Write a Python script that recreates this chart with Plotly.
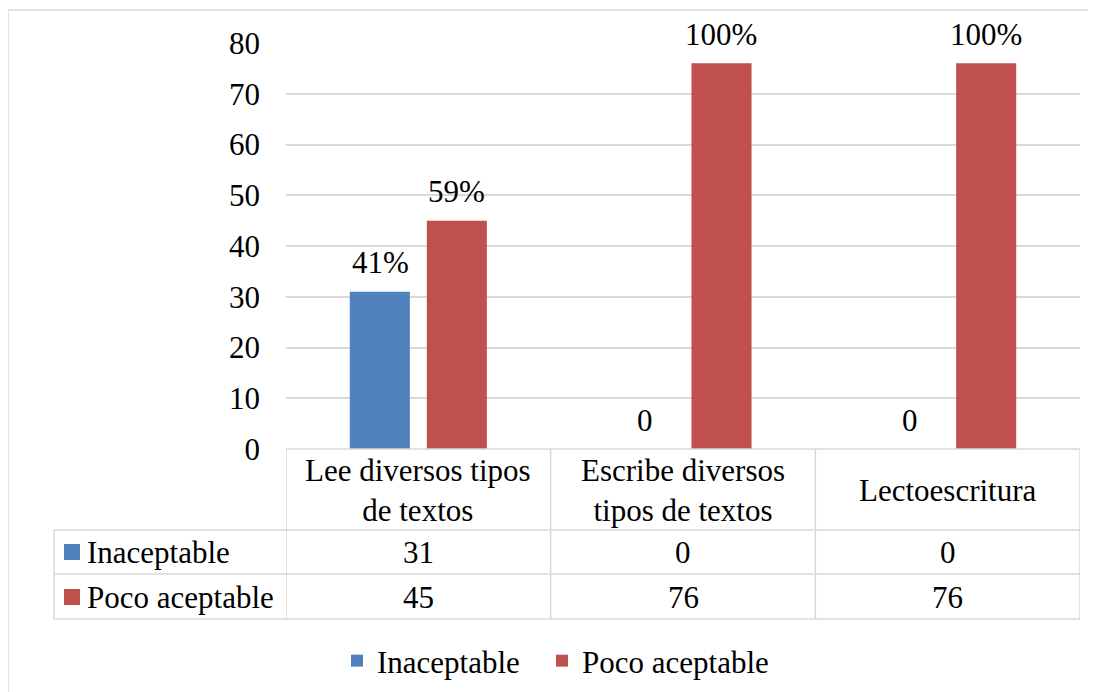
import plotly.graph_objects as go

categories = ["Lee diversos tipos de textos", "Escribe diversos tipos de textos", "Lectoescritura"]
category_labels = [["Lee diversos tipos", "de textos"], ["Escribe diversos", "tipos de textos"], ["Lectoescritura"]]
series_names = ["Inaceptable", "Poco aceptable"]
inaceptable = [31, 0, 0]
poco_aceptable = [45, 76, 76]
inaceptable_labels = ["41%", "0", "0"]
poco_labels = ["59%", "100%", "100%"]
y_ticks = [0, 10, 20, 30, 40, 50, 60, 70, 80]

BLUE = "#4F81BD"
RED = "#C0504D"
GRID = "#D9D9D9"
FONT = "Liberation Serif, Times New Roman, serif"
FS = 31

W, H = 1096, 692
OFF = 8  # page body margin
RL, RR, RT, RB = 286, 1080, 43, 449
L, R, T, B = RL - OFF, RR - OFF, RT - OFF, RB - OFF


def px(p):
    return (p - RL) / (RR - RL)


def py(p):
    return (RB - p) / (RB - RT)


idx = list(range(len(categories)))
fig = go.Figure()
fig.add_trace(go.Bar(x=idx, y=inaceptable, name=series_names[0], marker_color=BLUE,
                     marker_line_width=0, legend="legend"))
fig.add_trace(go.Bar(x=idx, y=poco_aceptable, name=series_names[1], marker_color=RED,
                     marker_line_width=0, legend="legend2"))

tf = dict(family=FONT, size=FS, color="black")
annotations = []
shapes = []
for vals, labs, shift in [(inaceptable, inaceptable_labels, -38), (poco_aceptable, poco_labels, 38)]:
    for i, (v, t) in enumerate(zip(vals, labs)):
        annotations.append(dict(x=i, y=v, xref="x", yref="y", text=t, showarrow=False,
                                xshift=shift, yshift=29, yanchor="middle", font=tf))

line = dict(color=GRID, width=1.5)
row_lines = [449, 530, 574, 619]
left_col = 54
shapes.append(dict(type="line", xref="paper", yref="paper", x0=px(RL), x1=px(RR),
                   y0=py(row_lines[0]), y1=py(row_lines[0]), line=line))
for yl in row_lines[1:]:
    shapes.append(dict(type="line", xref="paper", yref="paper", x0=px(left_col), x1=px(RR),
                       y0=py(yl), y1=py(yl), line=line))
for i in range(len(categories) + 1):
    shapes.append(dict(type="line", xref="x", yref="paper", x0=i - 0.5, x1=i - 0.5,
                       y0=py(449), y1=py(619), line=line))
shapes.append(dict(type="line", xref="paper", yref="paper", x0=px(left_col), x1=px(left_col),
                   y0=py(530), y1=py(619), line=line))

for i, lab in enumerate(category_labels):
    annotations.append(dict(x=i, y=py(490), xref="x", yref="paper", text="<br>".join(lab),
                            showarrow=False, yanchor="middle", font=tf))
row_centers = [552, 597]
for name, vals, color, yc in [(series_names[0], inaceptable, BLUE, row_centers[0]),
                              (series_names[1], poco_aceptable, RED, row_centers[1])]:
    shapes.append(dict(type="rect", xref="paper", yref="paper", x0=px(64), x1=px(80),
                       y0=py(yc - 8), y1=py(yc + 8), fillcolor=color, line_width=0))
    annotations.append(dict(x=px(85), y=py(yc), xref="paper", yref="paper", text=name,
                            showarrow=False, xanchor="left", yanchor="middle", font=tf))
    for i, v in enumerate(vals):
        annotations.append(dict(x=i, y=py(yc), xref="x", yref="paper", text=str(v),
                                showarrow=False, yanchor="middle", font=tf))

shapes.append(dict(type="rect", xref="paper", yref="paper", x0=px(8), x1=px(1200),
                   y0=py(800), y1=py(10), line=dict(color=GRID, width=1.5),
                   fillcolor="rgba(0,0,0,0)", layer="below"))

leg_common = dict(orientation="h", xanchor="left", y=py(661), yanchor="middle",
                  font=tf, bgcolor="rgba(0,0,0,0)")

fig.update_layout(
    width=W, height=H,
    margin=dict(l=L, r=W - R, t=T, b=H - B, pad=0),
    paper_bgcolor="white", plot_bgcolor="white",
    barmode="group", bargap=0.418, bargroupgap=0.22,
    font=tf,
    xaxis=dict(range=[-0.5, 2.5], showticklabels=False, showgrid=False, zeroline=False,
               showline=False, ticks=""),
    yaxis=dict(range=[0, 80], tickvals=y_ticks, showgrid=True, gridcolor=GRID, gridwidth=1.5,
               zeroline=False, showline=False, ticks="", ticklabelstandoff=25, tickfont=tf),
    showlegend=True,
    legend=dict(x=px(337), **leg_common),
    legend2=dict(x=px(542), **leg_common),
    shapes=shapes,
    annotations=annotations,
)

fig.write_html("out.html")
